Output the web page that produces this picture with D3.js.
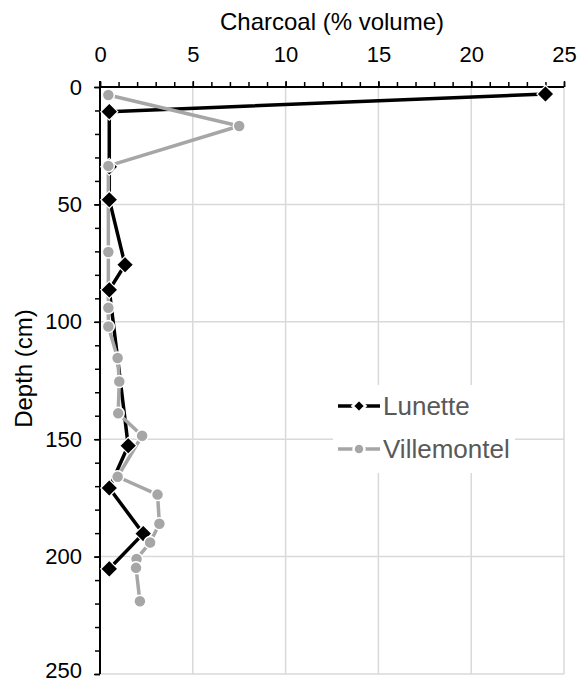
<!DOCTYPE html>
<html>
<head>
<meta charset="utf-8">
<script src="https://cdn.jsdelivr.net/npm/d3@7"></script>
<style>
  html, body { margin: 0; padding: 0; background: #fff; }
  svg { display: block; font-family: Arial, "Liberation Sans", sans-serif; }
</style>
</head>
<body>
<svg id="chart" width="579" height="683"></svg>
<script>
// ---- Data ----
const lunetteDepth  = [3, 10.5, 34, 48, 75.7, 86.4, 152.8, 170.8, 190.2, 205.2];
const lunetteValue  = [24, 0.5, 0.5, 0.5, 1.35, 0.5, 1.52, 0.5, 2.33, 0.5];
const villeDepth = [3.4, 16.6, 33.6, 70.3, 94, 102, 115.4, 125.4, 139, 148.5, 166, 173.6, 186, 194, 201, 204.8, 219];
const villeValue = [0.45, 7.5, 0.45, 0.45, 0.45, 0.45, 0.95, 1.04, 0.98, 2.27, 0.95, 3.1, 3.2, 2.7, 1.97, 1.94, 2.15];
const xTicks = [0, 5, 10, 15, 20, 25];
const yTicks = [0, 50, 100, 150, 200, 250];
const seriesNames = ["Lunette", "Villemontel"];
const xTitle = "Charcoal (% volume)";
const yTitle = "Depth (cm)";

(function () {
const lunette = lunetteDepth.map((d, i) => ({ depth: d, value: lunetteValue[i] }));
const ville = villeDepth.map((d, i) => ({ depth: d, value: villeValue[i] }));

// ---- Layout ----
const svg = d3.select("#chart");
const L = 100, R = 564, T = 87, B = 674;
const x = d3.scaleLinear().domain([0, 25]).range([L, R]);
const y = d3.scaleLinear().domain([0, 250]).range([T, B]);

const BLACK = "#000000", GRAY = "#a6a6a6", GRID = "#d9d9d9";
const FONT = "Arial, 'Liberation Sans', sans-serif";

// gridlines
svg.append("g").selectAll("line").data(xTicks.filter(t => t > 0)).join("line")
  .attr("x1", d => x(d)).attr("x2", d => x(d)).attr("y1", T).attr("y2", B)
  .attr("stroke", GRID).attr("stroke-width", 1.5);
svg.append("g").selectAll("line").data(yTicks.filter(t => t > 0)).join("line")
  .attr("x1", L).attr("x2", R).attr("y1", d => y(d)).attr("y2", d => y(d))
  .attr("stroke", GRID).attr("stroke-width", 1.5);

// top axis (minor ticks every 1)
const xAxisMinor = d3.axisTop(x).tickValues(d3.range(0, 26, 1)).tickSize(5).tickFormat("");
const gxm = svg.append("g").attr("transform", `translate(0,${T})`).call(xAxisMinor);
const xAxis = d3.axisTop(x).tickValues(xTicks).tickSize(6).tickPadding(19).tickFormat(d3.format("d"));
const gx = svg.append("g").attr("transform", `translate(0,${T})`).call(xAxis);
[gxm, gx].forEach(g => {
  g.select(".domain").attr("stroke", BLACK).attr("stroke-width", 2).attr("d", `M${L},0H${R}`);
  g.selectAll(".tick line").attr("stroke", BLACK).attr("stroke-width", 1.5);
});
gx.selectAll(".tick text").attr("font-size", 22).attr("fill", "#000").attr("font-family", FONT);

// left axis (minor ticks every 10)
const yAxisMinor = d3.axisLeft(y).tickValues(d3.range(0, 251, 10)).tickSize(5).tickFormat("");
const gym = svg.append("g").attr("transform", `translate(${L},0)`).call(yAxisMinor);
const yAxis = d3.axisLeft(y).tickValues(yTicks).tickSize(6).tickPadding(12).tickFormat(d3.format("d"));
const gy = svg.append("g").attr("transform", `translate(${L},0)`).call(yAxis);
[gym, gy].forEach(g => {
  g.select(".domain").attr("stroke", BLACK).attr("stroke-width", 2).attr("d", `M0,${T - 6}V${B}`);
  g.selectAll(".tick line").attr("stroke", BLACK).attr("stroke-width", 1.5);
});
gy.selectAll(".tick text").attr("font-size", 22).attr("fill", "#000").attr("font-family", FONT)
  .attr("dy", d => d === 250 ? "0.14em" : "0.32em");

// titles
svg.append("text").attr("x", (L + R) / 2).attr("y", 30).attr("text-anchor", "middle")
  .attr("font-size", 24).attr("fill", "#000").text(xTitle);
svg.append("text").attr("transform", `translate(32,${(T + B) / 2 - 12}) rotate(-90)`)
  .attr("text-anchor", "middle").attr("font-size", 24).attr("fill", "#000").text(yTitle);

// lines
const line = d3.line().x(d => x(d.value)).y(d => y(d.depth));
svg.append("path").datum(lunette).attr("d", line).attr("fill", "none")
  .attr("stroke", BLACK).attr("stroke-width", 3.5).attr("stroke-linejoin", "round");
svg.append("path").datum(ville).attr("d", line).attr("fill", "none")
  .attr("stroke", GRAY).attr("stroke-width", 3.5).attr("stroke-linejoin", "round");

// markers
const diamond = s => `M0,${-s}L${s},0L0,${s}L${-s},0Z`;
svg.append("g").selectAll("path").data(lunette).join("path")
  .attr("transform", d => `translate(${x(d.value)},${y(d.depth)})`)
  .attr("d", diamond(8.5)).attr("fill", BLACK).attr("stroke", "#fff").attr("stroke-width", 1.2);
svg.append("g").selectAll("circle").data(ville).join("circle")
  .attr("cx", d => x(d.value)).attr("cy", d => y(d.depth)).attr("r", 6)
  .attr("fill", GRAY).attr("stroke", "#fff").attr("stroke-width", 1.5);

// legend
const lg = svg.append("g");
lg.append("rect").attr("x", 333).attr("y", 385).attr("width", 182).attr("height", 88).attr("fill", "#fff");
const items = [
  { name: seriesNames[0], color: BLACK, y: 406, shape: "diamond" },
  { name: seriesNames[1], color: GRAY, y: 449, shape: "circle" }
];
items.forEach(it => {
  lg.append("line").attr("x1", 338).attr("x2", 380).attr("y1", it.y).attr("y2", it.y)
    .attr("stroke", it.color).attr("stroke-width", 3.5);
  if (it.shape === "diamond") {
    lg.append("path").attr("transform", `translate(359,${it.y})`).attr("d", diamond(6.5))
      .attr("fill", it.color).attr("stroke", "#fff").attr("stroke-width", 2.5);
  } else {
    lg.append("circle").attr("cx", 359).attr("cy", it.y).attr("r", 5.5)
      .attr("fill", it.color).attr("stroke", "#fff").attr("stroke-width", 2.5);
  }
  lg.append("text").attr("x", 383).attr("y", it.y + 9).attr("font-size", 26)
    .attr("fill", "#595959").text(it.name);
});
})();
</script>
</body>
</html>
